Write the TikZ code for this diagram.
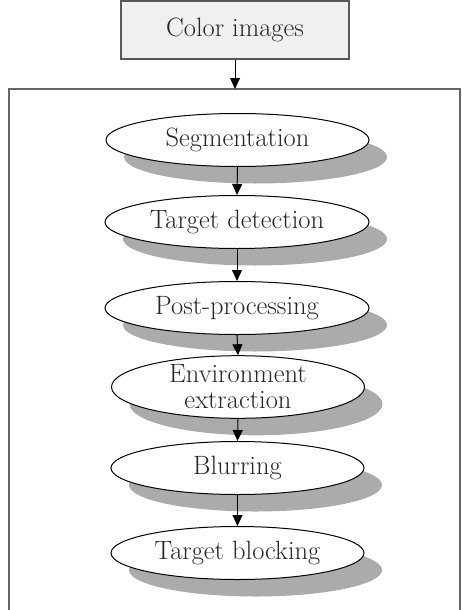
\documentclass[tikz,border=0pt]{standalone}
\usetikzlibrary{shapes.geometric,shadows,arrows.meta}
\begin{document}
\begin{tikzpicture}[x=1pt,y=-1pt,
  txt/.style={text=black!85,font=\fontsize{26.5}{26}\selectfont},
  stage/.style={txt,ellipse,draw=black,line width=1pt,fill=white,inner sep=0pt,
    minimum height=53pt,align=center,
    drop shadow={shadow xshift=18pt,shadow yshift=-17pt,fill=black!33,opacity=1}},
  flow/.style={line width=1pt,-{Triangle[length=11pt,width=10pt]}}]
\useasboundingbox (0,0) rectangle (461,610);
\node[txt,draw=black!65,line width=1.4pt,fill=black!6,minimum width=228pt,minimum height=58pt,inner sep=0pt] (ci) at (235,30) {Color images};
\coordinate (frametop) at (235,89);
\draw[black!60,line width=1.4pt] (9,615) -- (9,89) -- (460,89) -- (460,615);
\node[stage,minimum width=263pt] (seg) at (237.5,140) {Segmentation};
\node[stage,minimum width=264pt] (det) at (237,222) {Target detection};
\node[stage,minimum width=264pt] (post) at (237,308) {Post-processing};
\node[stage,minimum width=253pt] (env) at (238,387) {Environment\\extraction};
\node[stage,minimum width=253pt] (blur) at (237.5,468) {Blurring};
\node[stage,minimum width=253pt] (blk) at (237.5,553) {Target blocking};
\draw[flow] (ci.south) -- (frametop);
\draw[flow] (seg.south) -- (det.north);
\draw[flow] (det.south) -- (post.north);
\draw[flow] (post.south) -- (env.north);
\draw[flow] (env.south) -- (blur.north);
\draw[flow] (blur.south) -- (blk.north);
\end{tikzpicture}
\end{document}
